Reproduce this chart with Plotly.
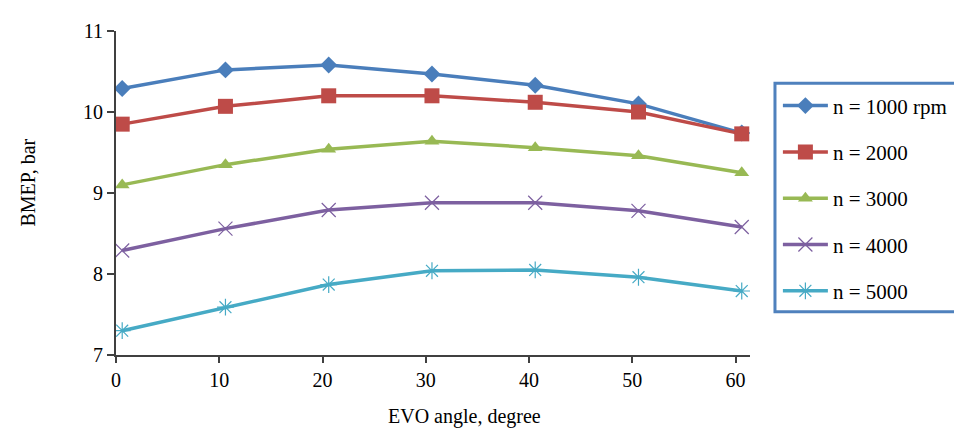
import plotly.graph_objects as go

evo_angle = [0.6, 10.6, 20.6, 30.6, 40.6, 50.6, 60.6]
bmep_1000 = [10.29, 10.52, 10.58, 10.47, 10.33, 10.10, 9.74]
bmep_2000 = [9.85, 10.07, 10.20, 10.20, 10.12, 10.00, 9.73]
bmep_3000 = [9.10, 9.35, 9.54, 9.64, 9.56, 9.46, 9.25]
bmep_4000 = [8.29, 8.56, 8.79, 8.88, 8.88, 8.78, 8.58]
bmep_5000 = [7.30, 7.59, 7.87, 8.04, 8.05, 7.96, 7.79]
series_names = ["n = 1000 rpm", "n = 2000", "n = 3000", "n = 4000", "n = 5000"]
x_ticks = [0, 10, 20, 30, 40, 50, 60]
y_ticks = [7, 8, 9, 10, 11]

FONT = "Liberation Serif"
styles = [
    dict(color="#4A7EBB", symbol="diamond", size=13, lw=0),
    dict(color="#BE4B48", symbol="square", size=15, lw=0),
    dict(color="#98B954", symbol="triangle-up", size=13, lw=0),
    dict(color="#7D60A0", symbol="x-thin-open", size=14, lw=1.2),
    dict(color="#46AAC5", symbol="asterisk-open", size=14, lw=1.2),
]
data = [bmep_1000, bmep_2000, bmep_3000, bmep_4000, bmep_5000]

fig = go.Figure()
for name, ys, st in zip(series_names, data, styles):
    fig.add_trace(go.Scatter(
        x=evo_angle, y=ys, name=name, mode="lines+markers",
        legendgroup=name,
        line=dict(color=st["color"], width=3.5),
        marker=dict(symbol=st["symbol"], size=st["size"], color=st["color"],
                    line=dict(color=st["color"], width=st["lw"])),
    ))

fig.update_layout(
    width=962, height=430,
    margin=dict(l=108, r=220, t=18, b=83),
    paper_bgcolor="white", plot_bgcolor="white",
    font=dict(family=FONT, size=20, color="black"),
    showlegend=True,
    legend=dict(
        x=1.044, y=0.832, xanchor="left", yanchor="top",
        bgcolor="rgba(0,0,0,0)", borderwidth=0,
        font=dict(family=FONT, size=21, color="black"),
        tracegroupgap=16, traceorder="grouped",
        itemwidth=45,
    ),
    shapes=[
        dict(type="rect", xref="paper", yref="paper",
             x0=1.0394, x1=1.3407, y0=0.1337, y1=0.8389,
             line=dict(color="#4F81BD", width=3), fillcolor="rgba(0,0,0,0)",
             layer="above"),
    ],
    xaxis=dict(
        range=[0, 61.4], tickvals=x_ticks, showgrid=False, zeroline=False,
        showline=True, linecolor="#404040", linewidth=2,
        ticks="outside", ticklen=6, tickwidth=2, tickcolor="#404040",
        tickfont=dict(family=FONT, size=20, color="black"),
    ),
    yaxis=dict(
        range=[7, 11], tickvals=y_ticks, showgrid=False, zeroline=False,
        showline=True, linecolor="#404040", linewidth=2,
        ticks="outside", ticklen=7, tickwidth=2, tickcolor="#404040",
        tickfont=dict(family=FONT, size=20, color="black"),
    ),
    annotations=[
        dict(text="EVO angle, degree", xref="paper", yref="paper",
             x=0.55, y=-0.19, xanchor="center", yanchor="middle",
             showarrow=False, font=dict(family=FONT, size=20, color="black")),
        dict(text="BMEP, bar", xref="paper", yref="paper",
             x=-0.139, y=0.532, xanchor="center", yanchor="middle",
             textangle=-90, showarrow=False,
             font=dict(family=FONT, size=20, color="black")),
    ],
)

fig.write_html("out.html")
